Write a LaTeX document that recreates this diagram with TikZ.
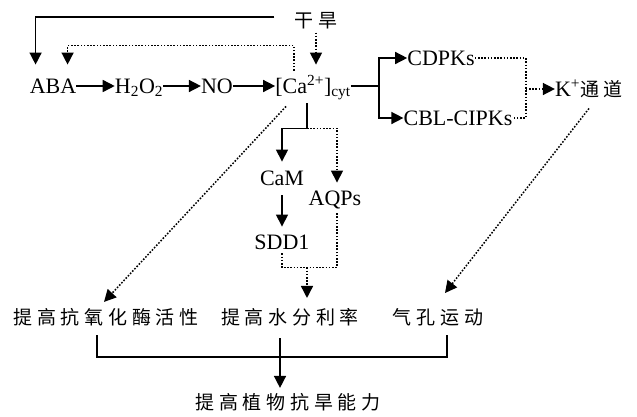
\documentclass[tikz,border=0pt]{standalone}
\usepackage{fontspec}
\setmainfont{Liberation Serif}
\newfontfamily\cjk[LetterSpace=25]{Noto Sans CJK SC}
\usetikzlibrary{arrows.meta}

\begin{document}
\begin{tikzpicture}[
    x=1pt, y=-1pt,
    every node/.style={inner sep=0pt},
    latin/.style={font=\fontsize{22}{24}\selectfont, text height=14.5pt, text depth=0pt},
    hanzi/.style={font=\fontsize{19}{21}\selectfont\cjk},
    link/.style={line width=1.5pt},
    link arrow/.style={link, -{Triangle[length=12pt,width=12pt]}},
    weak link/.style={link, dash pattern=on 1.6pt off 1.6pt},
    weak arrow/.style={weak link, -{Triangle[length=12pt,width=12pt]}},
]
\useasboundingbox (0,0) rectangle (637,416);

\node[hanzi] (drought) at (316,21) {干旱};
\node[latin] (aba) at (53,86) {ABA};
\node[latin] (hoo) at (139,86) {H\textsubscript{2}O\textsubscript{2}};
\node[latin] (no) at (217,86) {NO};
\node[latin] (ca) at (313,86) {[Ca\textsuperscript{2+}]\textsubscript{cyt}};
\node[latin] (cdpk) at (441,58) {CDPKs};
\node[latin] (cbl) at (458,118) {CBL-CIPKs};
\node[latin] (kch) at (589,89) {K\textsuperscript{+}{\cjk\fontsize{19}{21}\selectfont 通道}};
\node[latin] (cam) at (282,178) {CaM};
\node[latin] (sdd) at (282,242) {SDD1};
\node[latin] (aqp) at (335,198) {AQPs};
\node[hanzi] (enz) at (106,317) {提高抗氧化酶活性};
\node[hanzi] (water) at (290,317) {提高水分利率};
\node[hanzi] (stoma) at (438,317) {气孔运动};
\node[hanzi] (result) at (288,402) {提高植物抗旱能力};

% drought signal
\draw[link arrow] ([xshift=-20pt,yshift=4pt]drought.west) -| ([xshift=6pt,yshift=14pt]aba.north west);
\draw[weak arrow] ([yshift=-3pt]drought.south) -- ([yshift=14pt]drought.south |- ca.north);
\draw[weak arrow] ([xshift=-19pt,yshift=8pt]ca.north) -- ++(0,-25) -| ([xshift=38pt,yshift=14pt]aba.north west);

% main chain
\draw[link arrow] (aba.east) -- (hoo.west);
\draw[link arrow] (hoo.east) -- (no.west);
\draw[link arrow] (no.east) -- (ca.west);

% kinases and K+ channel
\draw[link] (ca.east) -- ++(28,0) coordinate (fork);
\draw[link arrow] (fork) |- (cdpk.west);
\draw[link arrow] (fork) |- (cbl.west);
\draw[weak link] (cdpk.east) -- ++(51,0) coordinate (kjoin) |- (cbl.east);
\draw[weak arrow] (kjoin |- kch.west) -- (kch.west);
\draw[weak arrow] ([yshift=-12pt]kch.south) -- ([xshift=7pt,yshift=15pt]stoma.north);

% antioxidant branch
\draw[weak arrow] ([xshift=-27pt,yshift=-13pt]ca.south) -- ([xshift=-2pt,yshift=6pt]enz.north);

% CaM / AQPs branch
\draw[link] ([xshift=-6pt,yshift=-10pt]ca.south) -- ++(0,25) coordinate (cj);
\draw[link arrow] (cj) -| ([yshift=9pt]cam.north);
\draw[weak arrow] (cj) -| ([xshift=2pt,yshift=8pt]aqp.north);
\draw[link arrow] ([yshift=-10pt]cam.south) -- ([yshift=8pt]sdd.north);
\draw[weak link] ([yshift=-4pt]sdd.south) -- ++(0,14) coordinate (wjoin) -| ([xshift=2pt,yshift=-8pt]aqp.south);
\draw[weak arrow] (cj |- wjoin) -- ([yshift=10pt]cj |- water.north);

% outcome
\draw[link] ([xshift=-9pt,yshift=-9pt]enz.south) -- ++(0,22) -| ([xshift=9pt,yshift=-9pt]stoma.south);
\draw[link arrow] ([xshift=-10pt,yshift=-12pt]water.south) -- ([xshift=-10pt,yshift=5pt]water.south |- result.north);
\end{tikzpicture}
\end{document}
